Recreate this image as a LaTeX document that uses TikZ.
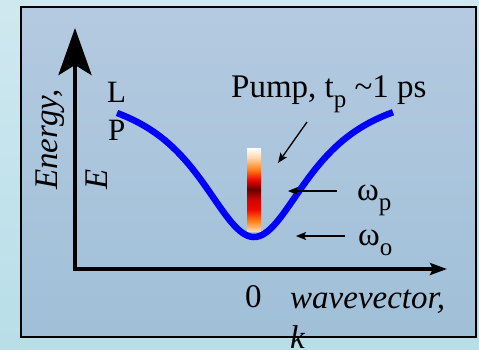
\documentclass[tikz,border=0pt]{standalone}
\usepackage{fontspec}
\setmainfont{Liberation Serif}
\usetikzlibrary{arrows.meta,positioning}
\definecolor{outertop}{RGB}{207,232,240}
\definecolor{outerbot}{RGB}{184,222,232}
\definecolor{paneltop}{RGB}{180,202,224}
\definecolor{panelbot}{RGB}{160,192,216}
\definecolor{barpeach}{RGB}{255,214,170}
\definecolor{barorange}{RGB}{255,128,24}
\definecolor{barred}{RGB}{240,8,0}
\definecolor{bardark}{RGB}{104,0,0}
% pump pulse spectrum, bottom to top (middle 50bp is used)
\pgfdeclareverticalshading{pumpbar}{100bp}{color(0bp)=(barpeach); color(25bp)=(barpeach);
  color(31bp)=(barorange); color(38bp)=(barred); color(44bp)=(barred!85!black);
  color(50bp)=(bardark); color(56bp)=(barred); color(62bp)=(barorange);
  color(69bp)=(barpeach); color(75bp)=(white); color(100bp)=(white)}
\newcommand{\lowsub}[1]{\raisebox{-10pt}{\fontsize{25}{25}\selectfont #1}}

\begin{document}
\begin{tikzpicture}[x=1pt, y=-1pt,
  lbl/.style={inner sep=0pt, font=\fontsize{33}{33}\selectfont},
  axisline/.style={line width=4.6pt, line join=miter},
  disp/.style={blue, line width=6.5pt},
  thinarr/.style={-{Stealth[length=10pt,width=8pt,inset=2pt]}, line width=1.3pt},
]
\useasboundingbox (0,0) rectangle (479,349);
\shade[top color=outertop, bottom color=outerbot] (0,0) rectangle (479,349);
\shade[top color=paneltop, bottom color=panelbot] (21,7) rectangle (476,337);
\draw[line width=2pt] (21,7) rectangle (476,337);

% axes
\coordinate (origin) at (75,269);
\coordinate (etip) at (75,28);
\coordinate (ktip) at (447,269);
\draw[axisline, {Stealth[length=47pt,width=33pt,inset=10pt]}-{Stealth[length=17pt,width=12pt,inset=3pt]}]
  (etip) -- (origin) -- (ktip);

% lower polariton branch
\draw[disp] plot[domain=117:393, samples=100, smooth] (\x, {80.6+156.4/(1+((\x-254)/70)^2)});

% pump spectrum
\shade[shading=pumpbar] (247,148) rectangle (261,231);

% labels (base of a multi-line node is its last line)
\node[lbl, anchor=base west] (pump) at (231,97) {Pump, t\lowsub{p} \textasciitilde1 ps};
\node[lbl, anchor=base west, align=center, font=\fontsize{31}{38}\selectfont] (lp) at (107,140) {L\\P};
\node[lbl, anchor=base west, rotate=90, align=left, font=\fontsize{33}{50}\selectfont\itshape] (energy) at (107,190) {Energy,\\E};
\node[lbl, anchor=base west, align=left, font=\fontsize{33}{40}\selectfont\itshape] (wavevec) at (290,348) {wavevector,\\k};
\node[lbl, anchor=base west] (zero) at (245,307) {0};
\node[lbl, anchor=base west] (omp) at (357,200) {ω\lowsub{p}};
\node[lbl, anchor=base west] (omo) at (358,245) {ω\lowsub{o}};

% arrows
\coordinate (pumptail) at (307,122);
\coordinate (pumphead) at (278,163);
\coordinate (omptail) at (337,191);
\coordinate (omphead) at (288,191);
\coordinate (omotail) at (345,236);
\coordinate (omohead) at (296,236);
\draw[thinarr] (pumptail) -- (pumphead);
\draw[thinarr] (omptail) -- (omphead);
\draw[thinarr] (omotail) -- (omohead);
\end{tikzpicture}
\end{document}
